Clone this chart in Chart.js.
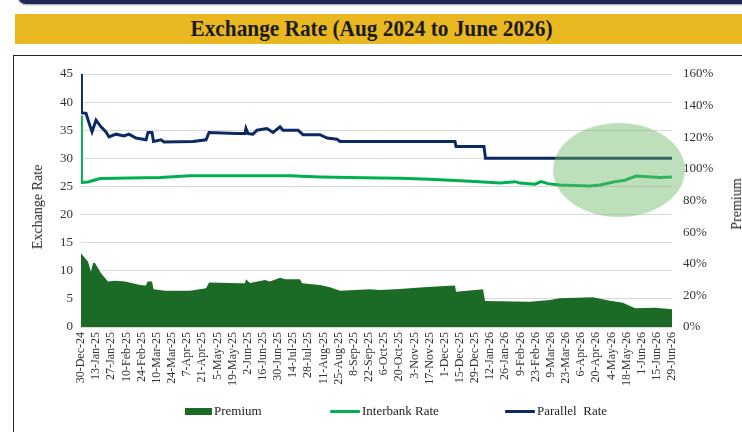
<!DOCTYPE html>
<html>
<head>
<meta charset="utf-8">
<script src="https://cdn.jsdelivr.net/npm/chart.js@4.4.1/dist/chart.umd.min.js"></script>
<style>
  html,body{margin:0;padding:0;background:#fff;}
  body{width:742px;height:432px;position:relative;overflow:hidden;font-family:"Liberation Serif","Times New Roman",serif;}
  #topbar{position:absolute;left:18px;top:-12px;width:800px;height:16px;background:#1F2757;border-radius:9px;box-shadow:0 1px 2px rgba(0,0,0,0.4);}
  #banner{position:absolute;left:15px;top:14px;width:740px;height:30px;background:#E9B820;}
  #title{position:absolute;left:0;top:14px;width:742px;height:30px;line-height:30px;text-align:center;}
  #title span{display:inline-block;font-weight:bold;font-size:23px;color:#1a1a1a;transform-origin:center;}
  #box{position:absolute;left:13px;top:55px;width:760px;height:400px;border:1px solid #222;box-sizing:border-box;}
  #c{position:absolute;left:0;top:0;}
  .ytitle{position:absolute;font-size:14px;color:#222;white-space:nowrap;transform:translate(-50%,-50%) rotate(-90deg);}
  .leg{position:absolute;font-size:13px;color:#222;white-space:nowrap;}
  .sw{position:absolute;}
</style>
</head>
<body>
<div id="topbar"></div>
<div id="banner"></div>
<div id="title"><span id="tt">Exchange Rate (Aug 2024 to June 2026)</span></div>
<div id="box"></div>
<canvas id="c" width="742" height="432"></canvas>
<div class="ytitle" style="left:38px;top:207px;">Exchange Rate</div>
<div class="ytitle" style="left:737px;top:204px;">Premium</div>
<div class="sw" style="left:185px;top:408px;width:27px;height:7px;background:#1B6B26;"></div>
<div class="leg" style="left:214px;top:403px;">Premium</div>
<div class="sw" style="left:330px;top:410px;width:30px;height:3px;background:#00B050;border-radius:1px;"></div>
<div class="leg" style="left:362px;top:403px;">Interbank Rate</div>
<div class="sw" style="left:505px;top:410px;width:30px;height:3px;background:#0B2A63;border-radius:1px;"></div>
<div class="leg" style="left:537px;top:403px;">Parallel&nbsp; Rate</div>
<script>
// ---- tick labels (every 14 days from 30-Dec-24) ----
const tickLabels = ["30-Dec-24","13-Jan-25","27-Jan-25","10-Feb-25","24-Feb-25","10-Mar-25","24-Mar-25","7-Apr-25","21-Apr-25","5-May-25","19-May-25","2-Jun-25","16-Jun-25","30-Jun-25","14-Jul-25","28-Jul-25","11-Aug-25","25-Aug-25","8-Sep-25","22-Sep-25","6-Oct-25","20-Oct-25","3-Nov-25","17-Nov-25","1-Dec-25","15-Dec-25","29-Dec-25","12-Jan-26","26-Jan-26","9-Feb-26","23-Feb-26","9-Mar-26","23-Mar-26","6-Apr-26","20-Apr-26","4-May-26","18-May-26","1-Jun-26","15-Jun-26","29-Jun-26"];

// ---- Parallel rate (days since 30-Dec-24, rate) ----
const parallelDays = [0,0.4,4.6,7.4,10.2,13.9,18.5,23.1,25.9,32.3,39.7,44.3,50.8,60.1,61.9,65.6,67,73.9,76.7,103.5,115.5,118.3,143.2,151.5,152.4,154.3,158.9,162.6,171.8,177.4,183.9,186.6,200.5,205.1,220.8,227.3,236.5,239.3,345.5,346.5,372.3,373.7,546];
const parallelRate = [45.2,38.1,38.0,36.3,34.7,36.8,35.6,34.7,33.8,34.3,34.0,34.3,33.6,33.3,34.6,34.6,33.0,33.3,32.9,33.0,33.3,34.6,34.4,34.4,35.3,34.4,34.3,35.0,35.3,34.6,35.6,35.0,35.0,34.2,34.2,33.6,33.4,33.0,33.0,32.1,32.1,30.0,30.0];

// ---- Interbank rate ----
const interbankDays = [0,0.4,6.5,12,17.6,45,73,100.7,156,193,221,248.5,276,295,322,341,364,387,401,405.6,419.5,425,431.5,442.5,470,479.5,493,502.6,507,512.8,535,546];
const interbankRate = [37.6,25.7,25.8,26.1,26.4,26.5,26.6,26.9,26.9,26.9,26.7,26.6,26.5,26.45,26.3,26.1,25.9,25.6,25.85,25.6,25.4,25.85,25.5,25.25,25.1,25.25,25.85,26.1,26.45,26.85,26.6,26.7];

// ---- Premium (%) ----
const premiumDays = [0,6.5,9.2,11.1,12.9,15.7,18.5,24.9,31.4,40.7,54.5,60,61.4,65.6,67,77.6,100.7,115.5,118.3,146.9,151.5,152.4,156.1,170,174.6,183.9,188.5,202.3,204.2,220.8,230,239.3,267,276.2,294.7,313.2,336.3,345.5,346.5,371.4,373.3,414.8,433.3,442.5,473,488.7,500.7,511.8,530.3,546];
const premiumPct = [46.6,41.3,35,40.5,40.5,37.1,34,28.7,29.3,28.7,26.6,26.3,28.7,28.7,23.9,23,23,24.5,28.1,27.6,27.6,30.2,27.9,29.7,28.7,31.2,30.2,30.2,27.6,26.6,25.1,23,23.9,23.4,24,25,25.9,26.2,22.3,23.9,16.4,16.0,17.1,18.2,18.8,16.6,15.4,11.8,12.2,11.2];

const pts = (xs, ys) => xs.map((x, i) => ({x: x, y: ys[i]}));

// fit title width
(function(){
  const el = document.getElementById('tt');
  const w = el.getBoundingClientRect().width;
  el.style.transform = 'scaleX(' + (362 / w) + ')';
})();

const ellipsePlugin = {
  id: 'ellipse',
  afterDatasetsDraw(chart) {
    const ctx = chart.ctx;
    ctx.save();
    ctx.beginPath();
    ctx.ellipse(619, 170, 66, 47, 0, 0, Math.PI * 2);
    ctx.fillStyle = 'rgba(110,185,105,0.45)';
    ctx.fill();
    ctx.restore();
  }
};

const font = {family: "'Liberation Serif','Times New Roman',serif", size: 13};

new Chart(document.getElementById('c'), {
  type: 'line',
  data: {
    datasets: [
      {label: 'Parallel  Rate', data: pts(parallelDays, parallelRate), yAxisID: 'y', borderColor: '#0B2A63', borderWidth: 3, pointRadius: 0, tension: 0, fill: false, order: 1},
      {label: 'Interbank Rate', data: pts(interbankDays, interbankRate), yAxisID: 'y', borderColor: '#00B050', borderWidth: 3, pointRadius: 0, tension: 0, fill: false, order: 2},
      {label: 'Premium', data: pts(premiumDays, premiumPct), yAxisID: 'y1', borderColor: '#1B6B26', backgroundColor: '#1B6B26', borderWidth: 0, pointRadius: 0, tension: 0, fill: 'origin', order: 3}
    ]
  },
  options: {
    responsive: false,
    animation: false,
    events: [],
    layout: {padding: {top: 74, left: 0, right: 0, bottom: 0}},
    plugins: {legend: {display: false}, tooltip: {enabled: false}},
    scales: {
      x: {
        type: 'linear', min: 0, max: 546,
        grid: {display: false, drawTicks: false},
        border: {display: false},
        afterFit: s => { s.height = 105; },
        ticks: {
          stepSize: 14, autoSkip: false, maxRotation: 90, minRotation: 90, padding: 5,
          color: '#333', font: {family: font.family, size: 12},
          callback: v => tickLabels[Math.round(v / 14)]
        }
      },
      y: {
        position: 'left', min: 0, max: 45,
        afterFit: s => { s.width = 81; },
        grid: {color: '#D9D9D9', lineWidth: 1, drawTicks: false},
        border: {display: false},
        ticks: {stepSize: 5, padding: 8, color: '#333', font: font}
      },
      y1: {
        position: 'right', min: 0, max: 160,
        afterFit: s => { s.width = 70; },
        grid: {display: false, drawTicks: false},
        border: {display: false},
        ticks: {stepSize: 20, padding: 11, color: '#333', font: font, callback: v => v + '%'}
      }
    }
  },
  plugins: [ellipsePlugin]
});
</script>
</body>
</html>
